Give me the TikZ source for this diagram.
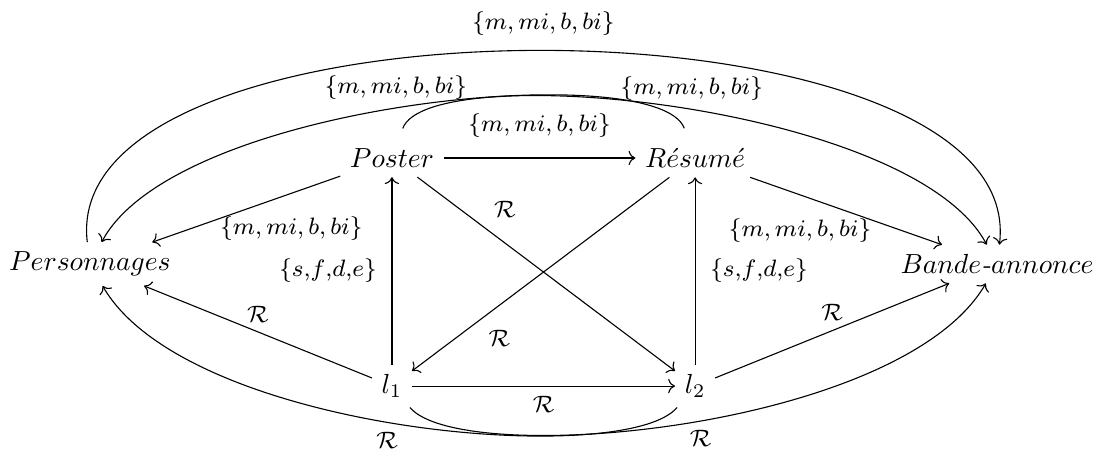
\RequirePackage{fix-cm}
\documentclass[tikz,border=0pt]{standalone}
\usepackage{amsmath,amssymb}
\usetikzlibrary{arrows.meta,positioning}
\tikzset{
  ent/.style={inner sep=3.33pt},
  rel/.style={font=\fontsize{8.6}{10}\selectfont}
}
\begin{document}
\begin{tikzpicture}
\useasboundingbox (-6.921,-2.419) rectangle (7.048,3.362);
\node[ent](poster)at(-1.93,1.35){$Poster$};
\node[ent](resume)at(1.93,1.35){$R\acute{e}sum\acute{e}$};
\node[ent](perso)at(-5.775,0){$Personnages$};
\node[ent](bande)at(5.775,0){$Bande\textit{-}annonce$};
\node[ent](l1)at(-1.93,-1.554){$l_1$};
\node[ent](l2)at(1.93,-1.554){$l_2$};
% straight relations
\draw[->](poster)--node[rel,above=4pt]{$\{m,mi,b,bi\}$}(resume);
\draw[->](poster)--node[rel,pos=0.26,below=5pt]{$\{m,mi,b,bi\}$}(perso);
\draw[->](resume)--node[rel,pos=0.26,below=5pt]{$\{m,mi,b,bi\}$}(bande);
\draw[->](l1)--node[rel,left=2pt]{$\{s{,}f{,}d{,}e\}$}(poster);
\draw[->](l2)--node[rel,right=2pt]{$\{s{,}f{,}d{,}e\}$}(resume);
\draw[->](poster)--node[rel,pos=0.26,above right]{$\mathcal{R}$}(l2);
\draw[->](resume)--node[rel,pos=0.74,below right]{$\mathcal{R}$}(l1);
\draw[->](l1)--node[rel,above]{$\mathcal{R}$}(perso);
\draw[->](l2)--node[rel,above]{$\mathcal{R}$}(bande);
\draw[->](l1)--node[rel,below]{$\mathcal{R}$}(l2);
% curved relations
\draw[->](perso)to[out=97,in=83,distance=3.3cm]node[rel,above=2pt]{$\{m,mi,b,bi\}$}(bande);
\draw[->,shorten <=4pt](poster)to[out=70,in=118,out distance=1.1cm,in distance=2.04cm]node[rel,pos=0.52,above]{$\{m,mi,b,bi\}$}(bande);
\draw[->,shorten <=4pt](resume)to[out=110,in=62,out distance=1.1cm,in distance=2.04cm]node[rel,pos=0.52,above]{$\{m,mi,b,bi\}$}(perso);
\draw[->](l1)to[out=-50,in=240,out distance=1.02cm,in distance=2.16cm]node[rel,pos=0.52,below]{$\mathcal{R}$}(bande);
\draw[->](l2)to[out=230,in=-60,out distance=1.02cm,in distance=2.16cm]node[rel,pos=0.52,below]{$\mathcal{R}$}(perso);
\end{tikzpicture}
\end{document}
